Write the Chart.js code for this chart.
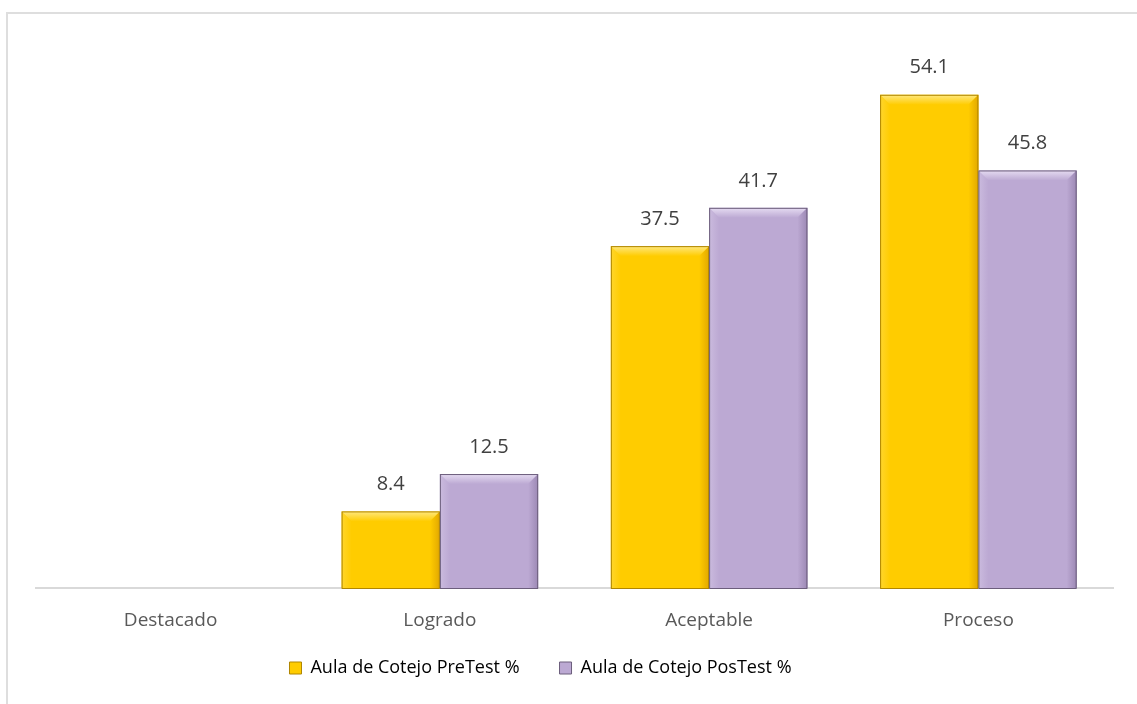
<!DOCTYPE html>
<html>
<head>
<meta charset="utf-8">
<script src="https://cdn.jsdelivr.net/npm/chart.js@4"></script>
<style>
  html, body { margin: 0; padding: 0; background: #fff; }
  #wrap { position: relative; width: 1137px; height: 704px; overflow: hidden; }
  #frame { position: absolute; left: 6px; top: 12px; width: 1200px; height: 800px;
           border-left: 2px solid #dedede; border-top: 2px solid #dedede; }
  canvas { position: absolute; left: 0; top: 0; }
</style>
</head>
<body>
<div id="wrap">
  <div id="frame"></div>
  <canvas id="grafico" width="1137" height="704"></canvas>
</div>
<script>
// categorías y porcentajes
const categorias = ["Destacado", "Logrado", "Aceptable", "Proceso"];
const preTest = [0, 8.4, 37.5, 54.1];
const posTest = [0, 12.5, 41.7, 45.8];
const nombres = ["Aula de Cotejo PreTest %", "Aula de Cotejo PosTest %"];

const fuente = "'Open Sans', 'Liberation Sans', sans-serif";

// colores de cada serie: base, bisel claro, lado oscuro, contorno
const estilos = [
  { base: "#FFCC00", claro: "#FFE880", oscuro: "#E2A800", borde: "#B08600" },
  { base: "#BCA9D3", claro: "#E6DCF2", oscuro: "#9C88B4", borde: "#6C5E7C" },
];

// efecto de bisel sobre cada barra
const biselPlugin = {
  id: "bisel",
  afterDatasetsDraw(chart) {
    const ctx = chart.ctx;
    chart.data.datasets.forEach((ds, i) => {
      const st = estilos[i];
      chart.getDatasetMeta(i).data.forEach((bar) => {
        const h = bar.base - bar.y;
        if (h <= 0) return;
        const l = bar.x - bar.width / 2, r = bar.x + bar.width / 2;
        const t = bar.y, b = bar.base;
        const bv = Math.min(10, h / 2);
        ctx.save();
        // bisel superior
        let g = ctx.createLinearGradient(0, t, 0, t + bv);
        g.addColorStop(0, st.claro);
        g.addColorStop(1, st.base);
        ctx.fillStyle = g;
        ctx.beginPath();
        ctx.moveTo(l, t); ctx.lineTo(r, t); ctx.lineTo(r - bv, t + bv); ctx.lineTo(l + bv, t + bv);
        ctx.closePath(); ctx.fill();
        // lado izquierdo, un poco más claro
        g = ctx.createLinearGradient(l, 0, l + bv, 0);
        g.addColorStop(0, st.claro);
        g.addColorStop(1, st.base);
        ctx.fillStyle = g;
        ctx.globalAlpha = 0.35;
        ctx.beginPath();
        ctx.moveTo(l, t); ctx.lineTo(l + bv, t + bv); ctx.lineTo(l + bv, b); ctx.lineTo(l, b);
        ctx.closePath(); ctx.fill();
        // lado derecho, sombreado
        ctx.globalAlpha = 1;
        g = ctx.createLinearGradient(r - bv, 0, r, 0);
        g.addColorStop(0, st.base);
        g.addColorStop(1, st.oscuro);
        ctx.fillStyle = g;
        ctx.beginPath();
        ctx.moveTo(r, t); ctx.lineTo(r - bv, t + bv); ctx.lineTo(r - bv, b); ctx.lineTo(r, b);
        ctx.closePath(); ctx.fill();
        // contorno
        ctx.strokeStyle = st.borde;
        ctx.lineWidth = 1;
        ctx.strokeRect(l + 0.5, t + 0.5, r - l - 1, b - t);
        ctx.restore();
      });
    });
  },
};

// etiquetas de valor encima de las barras
const etiquetasPlugin = {
  id: "etiquetas",
  afterDatasetsDraw(chart) {
    const ctx = chart.ctx;
    ctx.save();
    ctx.font = "20px " + fuente;
    ctx.fillStyle = "#404040";
    ctx.textAlign = "center";
    ctx.textBaseline = "middle";
    chart.data.datasets.forEach((ds, i) => {
      chart.getDatasetMeta(i).data.forEach((bar, j) => {
        const v = ds.data[j];
        if (!v) return;
        ctx.fillText(v.toFixed(1), bar.x, bar.y - 27);
      });
    });
    ctx.restore();
  },
};

// la leyenda va algo a la izquierda del centro y más pegada al eje
const moverLeyenda = {
  id: "moverLeyenda",
  afterLayout(chart) {
    const lg = chart.legend;
    if (!lg) return;
    lg.left -= 34;
    lg.right -= 34;
    lg.top -= 17;
    lg.bottom -= 17;
  },
};

const config = {
  type: "bar",
  data: {
    labels: categorias,
    datasets: [
      { label: nombres[0], data: preTest, backgroundColor: estilos[0].base },
      { label: nombres[1], data: posTest, backgroundColor: estilos[1].base },
    ],
  },
  options: {
    responsive: false,
    animation: false,
    categoryPercentage: 0.73,
    barPercentage: 1.0,
    layout: { padding: { left: 36, right: 24, top: 41, bottom: 0 } },
    scales: {
      x: {
        grid: { display: false },
        border: { display: true, color: "#d9d9d9", width: 2 },
        ticks: { color: "#595959", font: { family: fuente, size: 19 }, padding: 13 },
        afterFit(scale) {
          scale.height = 48;
        },
      },
      y: { display: false, min: 0, max: 60 },
    },
    plugins: {
      legend: {
        position: "bottom",
        labels: {
          color: "#595959",
          font: { family: fuente, size: 18 },
          boxWidth: 12,
          boxHeight: 12,
          padding: 40,
          generateLabels(chart) {
            return chart.data.datasets.map((ds, i) => ({
              text: ds.label,
              fillStyle: estilos[i].base,
              strokeStyle: estilos[i].borde,
              lineWidth: 1,
              datasetIndex: i,
            }));
          },
        },
      },
      tooltip: { enabled: false },
    },
  },
  plugins: [biselPlugin, etiquetasPlugin, moverLeyenda],
};

const grafico = new Chart(document.getElementById("grafico").getContext("2d"), config);
</script>
</body>
</html>
